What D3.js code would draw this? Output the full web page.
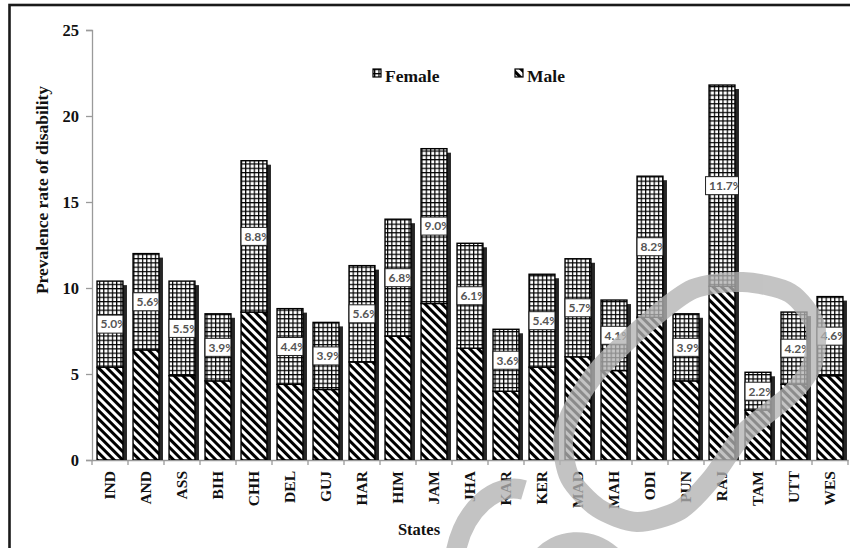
<!DOCTYPE html>
<html>
<head>
<meta charset="utf-8">
<script src="https://cdn.jsdelivr.net/npm/d3@7/dist/d3.min.js"></script>
<style>
  html, body { margin: 0; padding: 0; background: #fff; }
  svg { display: block; }
</style>
</head>
<body>
<svg id="chart" width="850" height="548"></svg>
<script>
// Prevalence rate of disability by state, split into male and female parts
const states = ["IND", "AND", "ASS", "BIH", "CHH", "DEL", "GUJ", "HAR", "HIM", "JAM", "JHA",
                "KAR", "KER", "MAD", "MAH", "ODI", "PUN", "RAJ", "TAM", "UTT", "WES"];
const male   = [5.4, 6.4, 4.9, 4.6, 8.6, 4.4, 4.1, 5.7, 7.2, 9.1, 6.5,
                4.0, 5.4, 6.0, 5.2, 8.3, 4.6, 10.1, 2.9, 4.4, 4.9];
const female = [5.0, 5.6, 5.5, 3.9, 8.8, 4.4, 3.9, 5.6, 6.8, 9.0, 6.1,
                3.6, 5.4, 5.7, 4.1, 8.2, 3.9, 11.7, 2.2, 4.2, 4.6];
const yTicks = [0, 5, 10, 15, 20, 25];
const seriesNames = ["Female", "Male"];

const rows = states.map((s, i) => ({ state: s, male: male[i], female: female[i] }));

const svg = d3.select("#chart");
const serif = "'Liberation Serif', 'Times New Roman', serif";

const x = d3.scaleBand().domain(states).range([92, 848]).paddingInner(0.28).paddingOuter(0.14);
const y = d3.scaleLinear().domain([0, 25]).range([460, 30]);

// fill patterns
const defs = svg.append("defs");
const grid = defs.append("pattern").attr("id", "grid")
  .attr("patternUnits", "userSpaceOnUse").attr("width", 4.3).attr("height", 4.3);
grid.append("rect").attr("width", 4.3).attr("height", 4.3).attr("fill", "#fff");
grid.append("rect").attr("width", 4.3).attr("height", 1.2).attr("fill", "#000");
grid.append("rect").attr("width", 1.2).attr("height", 4.3).attr("fill", "#000");

const stripes = defs.append("pattern").attr("id", "stripes")
  .attr("patternUnits", "userSpaceOnUse").attr("width", 6).attr("height", 6)
  .attr("patternTransform", "rotate(-45)");
stripes.append("rect").attr("width", 6).attr("height", 6).attr("fill", "#fff");
stripes.append("rect").attr("width", 3).attr("height", 6).attr("fill", "#000");

const plotClip = defs.append("clipPath").attr("id", "plotClip");
plotClip.append("rect").attr("x", 80).attr("y", 0).attr("width", 800).attr("height", y(0));

// outer frame
svg.append("rect").attr("x", 9.5).attr("y", 5).attr("width", 860).attr("height", 570)
  .attr("fill", "none").attr("stroke", "#1a1a1a").attr("stroke-width", 2.6);

// axes
const yAxis = svg.append("g").attr("transform", `translate(${x.range()[0]},0)`)
  .call(d3.axisLeft(y).tickValues(yTicks).tickSize(6).tickPadding(7));
yAxis.select(".domain").attr("stroke", "#9a9a9a").attr("stroke-width", 1.3);
yAxis.selectAll(".tick line").attr("stroke", "#9a9a9a").attr("stroke-width", 1.3);
yAxis.selectAll(".tick text").attr("font-family", serif).attr("font-size", 16.5)
  .attr("font-weight", "bold").attr("fill", "#111");

const xAxis = svg.append("g").attr("transform", `translate(0,${y(0)})`)
  .call(d3.axisBottom(x).tickSize(0).tickPadding(10));
xAxis.select(".domain").attr("stroke", "#9a9a9a").attr("stroke-width", 1.3);
xAxis.selectAll(".tick text")
  .attr("font-family", serif).attr("font-size", 15.5).attr("font-weight", "bold").attr("fill", "#111")
  .attr("transform", "rotate(-90)").attr("text-anchor", "end")
  .attr("x", -11).attr("y", 0).attr("dy", "0.35em");
// separators between categories
xAxis.selectAll(".sep").data(d3.range(states.length + 1)).enter().append("line")
  .attr("x1", i => x.range()[0] + i * x.step()).attr("x2", i => x.range()[0] + i * x.step())
  .attr("y1", 0).attr("y2", 5).attr("stroke", "#9a9a9a").attr("stroke-width", 1.3);

// bars
const bw = x.bandwidth();
const bars = svg.append("g").attr("clip-path", "url(#plotClip)");
const g = bars.selectAll("g.bar").data(rows).enter().append("g").attr("class", "bar");

g.append("rect").attr("class", "shadow")
  .attr("x", d => x(d.state) + 4).attr("y", d => y(d.male + d.female) + 4)
  .attr("width", bw).attr("height", d => y(0) - y(d.male + d.female))
  .attr("fill", "#262626");

g.append("rect").attr("class", "male")
  .attr("x", d => x(d.state)).attr("y", d => y(d.male))
  .attr("width", bw).attr("height", d => y(0) - y(d.male))
  .attr("fill", "url(#stripes)").attr("stroke", "#000").attr("stroke-width", 1.4);

g.append("rect").attr("class", "female")
  .attr("x", d => x(d.state)).attr("y", d => y(d.male + d.female))
  .attr("width", bw).attr("height", d => y(d.male) - y(d.male + d.female))
  .attr("fill", "url(#grid)").attr("stroke", "#000").attr("stroke-width", 1.4);

// female share labels
const labelFont = "Lato, 'Open Sans', sans-serif";
rows.forEach((d, i) => {
  const txt = d.female.toFixed(1) + "%";
  const w = txt.length > 4 ? bw + 7 : bw;
  const cx = x(d.state) + bw / 2;
  const cy = (y(d.male) + y(d.male + d.female)) / 2;
  const bx = cx - w / 2, by = cy - 9;
  defs.append("clipPath").attr("id", "lab" + i)
    .append("rect").attr("x", bx).attr("y", by).attr("width", w).attr("height", 18);
  svg.append("rect").attr("x", bx).attr("y", by).attr("width", w).attr("height", 18)
    .attr("fill", "#fff").attr("stroke", "#222").attr("stroke-width", 1);
  svg.append("text").attr("clip-path", `url(#lab${i})`)
    .attr("x", bx + 3.5).attr("y", cy).attr("dy", "0.36em")
    .attr("font-family", labelFont).attr("font-size", 12).attr("font-weight", "bold")
    .attr("fill", "#555").text(txt);
});

// legend
const legend = svg.append("g");
const legendX = [373, 515];
seriesNames.forEach((name, i) => {
  legend.append("rect").attr("x", legendX[i]).attr("y", 69).attr("width", 8).attr("height", 8)
    .attr("fill", i === 0 ? "url(#grid)" : "url(#stripes)").attr("stroke", "#000").attr("stroke-width", 1.2);
  legend.append("text").attr("x", legendX[i] + 12).attr("y", 82)
    .attr("font-family", serif).attr("font-size", 17.5).attr("font-weight", "bold").attr("fill", "#111")
    .text(name);
});

// axis titles
svg.append("text").attr("transform", "translate(48,190) rotate(-90)")
  .attr("text-anchor", "middle").attr("font-family", serif).attr("font-size", 17.5)
  .attr("font-weight", "bold").attr("fill", "#111").text("Prevalence rate of disability");
svg.append("text").attr("x", 419).attr("y", 535).attr("text-anchor", "middle")
  .attr("font-family", serif).attr("font-size", 16.5).attr("font-weight", "bold").attr("fill", "#111")
  .text("States");

// faint grey publisher mark drawn over the chart
const mark = svg.append("g").attr("fill", "none").attr("stroke", "#b3b3b3")
  .attr("stroke-width", 20).attr("stroke-linecap", "butt").attr("opacity", 0.78);
const ring = [[743, 282], [790, 293], [815, 325], [812, 365], [790, 395], [745, 432],
              [712, 478], [680, 510], [637, 522], [598, 508], [570, 478], [563, 440],
              [575, 405], [600, 368], [648, 322], [693, 289]];
mark.append("path").attr("d", d3.line().curve(d3.curveCardinalClosed.tension(0.2))(ring));
mark.append("path").attr("d", "M 455,556 C 463,508 497,482 524,490");
mark.append("path").attr("d", "M 540,560 C 556,538 590,536 612,556");
</script>
</body>
</html>
